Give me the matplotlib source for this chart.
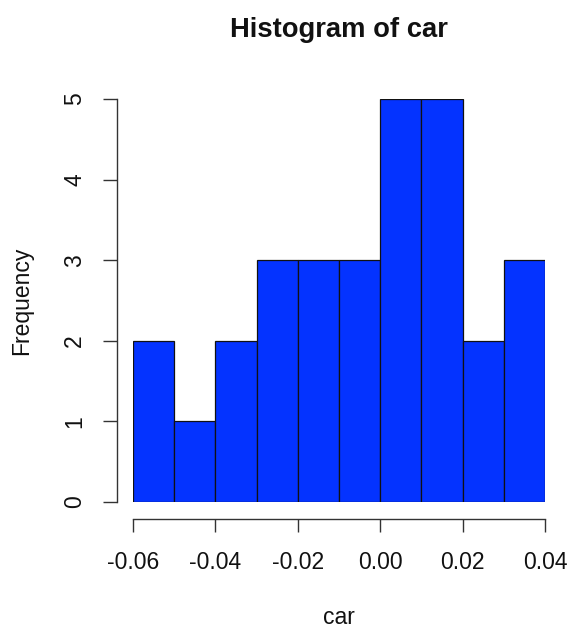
import matplotlib
matplotlib.use("Agg")
import matplotlib.pyplot as plt

bin_edges = [-0.06, -0.05, -0.04, -0.03, -0.02, -0.01, 0.00, 0.01, 0.02, 0.03, 0.04]
counts = [2, 1, 2, 3, 3, 3, 5, 5, 2, 3]
x_ticks = [-0.06, -0.04, -0.02, 0.00, 0.02, 0.04]
x_tick_labels = ["-0.06", "-0.04", "-0.02", "0.00", "0.02", "0.04"]
y_ticks = [0, 1, 2, 3, 4, 5]
title = "Histogram of car"
xlabel = "car"
ylabel = "Frequency"

plt.rcParams['font.family'] = ['Liberation Sans', 'DejaVu Sans']
W, H = 568, 628
fig = plt.figure(figsize=(W / 100, H / 100), dpi=100)
ax = fig.add_axes([133 / W, (H - 502) / H, 412 / W, 403 / H])

lefts = bin_edges[:-1]
widths = [b - a for a, b in zip(bin_edges[:-1], bin_edges[1:])]
ax.bar(lefts, counts, width=widths, align='edge', color='#0433ff',
       edgecolor='#111111', linewidth=0.9)

ax.set_xlim(bin_edges[0], bin_edges[-1])
ax.set_ylim(0, max(counts))

for s in ['top', 'right']:
    ax.spines[s].set_visible(False)
ax.spines['left'].set_position(('outward', 16 * 0.72))
ax.spines['bottom'].set_position(('outward', 17 * 0.72))
ax.spines['left'].set_bounds(y_ticks[0], y_ticks[-1])
ax.spines['bottom'].set_bounds(x_ticks[0], x_ticks[-1])
for s in ['left', 'bottom']:
    ax.spines[s].set_color('#333333')
    ax.spines[s].set_linewidth(1.0)

ax.set_xticks(x_ticks)
ax.set_xticklabels(x_tick_labels)
ax.set_yticks(y_ticks)
ax.set_yticklabels([str(v) for v in y_ticks], rotation=90, va='center')
ax.tick_params(axis='x', length=13 * 0.72, width=1.0, color='#333333', pad=14, labelsize=16.5, labelcolor='#111111')
ax.tick_params(axis='y', length=14 * 0.72, width=1.0, color='#333333', pad=12, labelsize=16.5, labelcolor='#111111')

fig.text(339 / W, 1 - 30 / H, title, ha='center', va='center', fontsize=19.7, fontweight='bold', color='#111111')
fig.text(339 / W, 1 - 617 / H, xlabel, ha='center', va='center', fontsize=16.5, color='#111111')
fig.text(22 / W, 1 - 301 / H, ylabel, ha='center', va='center', rotation=90, fontsize=16.5, color='#111111')

fig.savefig("out.png", dpi=100)
